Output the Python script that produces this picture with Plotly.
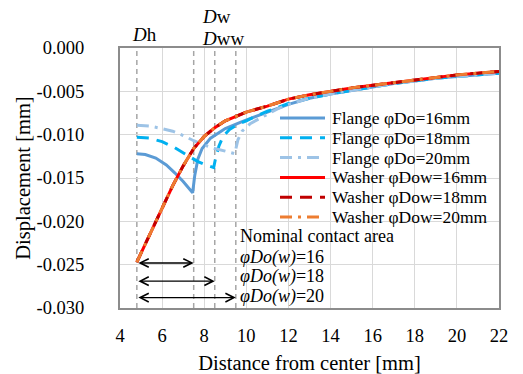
import plotly.graph_objects as go

# ---- data ---------------------------------------------------------------
washer_x = [4.8, 5.5, 6.0, 6.5, 7.0, 7.5, 8.0, 8.5, 9.0, 9.5, 10, 11, 12, 13,
            14, 15, 16, 17, 18, 19, 20, 21, 22]
washer_16 = [-0.0247, -0.0211, -0.0185, -0.0159, -0.0136, -0.0116, -0.0102,
             -0.0092, -0.0084, -0.0079, -0.0074, -0.0067, -0.0059, -0.0054,
             -0.0050, -0.0046, -0.0043, -0.0040, -0.0037, -0.0034, -0.0031,
             -0.0029, -0.0027]
washer_18 = [-0.0247, -0.0211, -0.0185, -0.0159, -0.0136, -0.0116, -0.0102,
             -0.0092, -0.0084, -0.0079, -0.0074, -0.0067, -0.0059, -0.0054,
             -0.0050, -0.0046, -0.0043, -0.0040, -0.0037, -0.0034, -0.0031,
             -0.0029, -0.0027]
washer_20 = [-0.0247, -0.0211, -0.0185, -0.0159, -0.0136, -0.0116, -0.0102,
             -0.0092, -0.0084, -0.0079, -0.0074, -0.0067, -0.0059, -0.0054,
             -0.0050, -0.0046, -0.0043, -0.0040, -0.0037, -0.0034, -0.0031,
             -0.0029, -0.0027]

flange16_x = [4.8, 5.2, 5.7, 6.2, 6.6, 7.0, 7.45, 7.55, 7.7, 7.9, 8.3, 9.0,
              9.8, 10.5, 11, 12, 13, 14, 15, 16, 17, 18, 19, 20, 21, 22]
flange16_y = [-0.0122, -0.0123, -0.0127, -0.0135, -0.0144, -0.0154, -0.0167,
              -0.0147, -0.0128, -0.0116, -0.0104, -0.0093, -0.0085, -0.0079,
              -0.0074, -0.0065, -0.0058, -0.0053, -0.0049, -0.0045, -0.0041,
              -0.0038, -0.0035, -0.0033, -0.0031, -0.0029]

flange18_x = [4.8, 5.4, 6.0, 6.6, 7.2, 7.7, 8.1, 8.45, 8.55, 8.7, 8.9, 9.2,
              9.6, 10.0, 10.5, 11, 12, 13, 14, 15, 16, 17, 18, 19, 20, 21, 22]
flange18_y = [-0.0103, -0.0104, -0.0108, -0.0115, -0.0124, -0.0131, -0.0135,
              -0.0138, -0.0126, -0.0113, -0.0102, -0.0094, -0.0088, -0.0084,
              -0.0078, -0.0073, -0.0064, -0.0058, -0.0053, -0.0049, -0.0045,
              -0.0041, -0.0038, -0.0035, -0.0033, -0.0031, -0.0029]

flange20_x = [4.8, 5.4, 6.0, 6.5, 7.0, 7.5, 8.0, 8.5, 9.0, 9.45, 9.6, 9.8,
              10.2, 10.8, 11.5, 12, 13, 14, 15, 16, 17, 18, 19, 20, 21, 22]
flange20_y = [-0.0089, -0.0090, -0.0093, -0.0096, -0.0101, -0.0107, -0.0112,
              -0.0116, -0.0119, -0.0122, -0.0106, -0.0096, -0.0087, -0.0079,
              -0.0070, -0.0065, -0.0058, -0.0053, -0.0049, -0.0045, -0.0041,
              -0.0038, -0.0035, -0.0033, -0.0031, -0.0029]

series_names = ["Flange φDo=16mm", "Flange φDo=18mm", "Flange φDo=20mm",
                "Washer φDow=16mm", "Washer φDow=18mm", "Washer φDow=20mm"]

# reference diameters (vertical guide lines) and their labels
guide_x = [4.8, 7.5, 8.5, 9.5]
contact_end_x = [7.5, 8.5, 9.5]
contact_arrow_y = [-0.0248, -0.0269, -0.0288]
contact_labels = ["<i>φDo(w)</i>=16", "<i>φDo(w)</i>=18", "<i>φDo(w)</i>=20"]

x_ticks = [4, 6, 8, 10, 12, 14, 16, 18, 20, 22]
y_ticks = [0.0, -0.005, -0.010, -0.015, -0.020, -0.025, -0.030]

# ---- styling ------------------------------------------------------------
FONT = "Liberation Serif, Times New Roman, serif"
W, H = 523, 374
ML, MR, MT, MB = 120, 24, 48, 66

DASH = "12px,8px"
DASHDOT = "12px,6px,3px,6px"
styles = [
    ("#5B9BD5", "solid"),
    ("#00B0F0", DASH),
    ("#9DC3E6", DASHDOT),
    ("#FF0000", "solid"),
    ("#C00000", DASH),
    ("#ED7D31", DASHDOT),
]

xs = [flange16_x, flange18_x, flange20_x, washer_x, washer_x, washer_x]
ys = [flange16_y, flange18_y, flange20_y, washer_16, washer_18, washer_20]

fig = go.Figure()
for name, x, y, (color, dash) in zip(series_names, xs, ys, styles):
    fig.add_trace(go.Scatter(
        x=x, y=y, mode="lines", name=name, showlegend=False,
        line=dict(color=color, width=3, dash=dash),
    ))


def px_to_paper_x(px):
    return (px - ML) / (W - ML - MR)


def px_to_paper_y(py):
    return 1 - (py - MT) / (H - MT - MB)


shapes = []
annotations = []

# vertical dashed guide lines
for gx in guide_x:
    shapes.append(dict(type="line", xref="x", yref="paper", x0=gx, x1=gx,
                       y0=0, y1=1, layer="between",
                       line=dict(color="#A6A6A6", width=1.5, dash="5px,4px")))

# legend drawn as line samples + text
row0, row_gap = 118, 19.8
for i, (name, (color, dash)) in enumerate(zip(series_names, styles)):
    yy = px_to_paper_y(row0 + i * row_gap)
    shapes.append(dict(type="line", xref="paper", yref="paper",
                       x0=px_to_paper_x(280), x1=px_to_paper_x(325),
                       y0=yy, y1=yy,
                       line=dict(color=color, width=3, dash=dash)))
    annotations.append(dict(text=name, xref="paper", yref="paper",
                            x=px_to_paper_x(330), y=yy, xanchor="left",
                            yanchor="middle", showarrow=False,
                            font=dict(family=FONT, size=17.5, color="black")))

# nominal contact area arrows
for xe, ya in zip(contact_end_x, contact_arrow_y):
    annotations.append(dict(x=xe, y=ya, ax=guide_x[0], ay=ya,
                            xref="x", yref="y", axref="x", ayref="y",
                            text="", showarrow=True, arrowside="end+start",
                            arrowhead=5, startarrowhead=5, arrowsize=1.2,
                            startarrowsize=1.2, arrowwidth=1.4,
                            arrowcolor="black"))

annotations.append(dict(text="Nominal contact area", xref="paper", yref="paper",
                        x=px_to_paper_x(238), y=px_to_paper_y(236),
                        xanchor="left", yanchor="middle", showarrow=False,
                        font=dict(family=FONT, size=18, color="black")))
for i, lab in enumerate(contact_labels):
    annotations.append(dict(text=lab, xref="paper", yref="paper",
                            x=px_to_paper_x(238),
                            y=px_to_paper_y(257 + i * 19.5),
                            xanchor="left", yanchor="middle", showarrow=False,
                            font=dict(family=FONT, size=18, color="black")))

# diameter labels above the plot
for txt, px, py in [("<i>D</i>h", 130, 35), ("<i>D</i>w", 200, 17),
                    ("<i>D</i>ww", 200, 39)]:
    annotations.append(dict(text=txt, xref="paper", yref="paper",
                            x=px_to_paper_x(px), y=px_to_paper_y(py),
                            xanchor="left", yanchor="middle", showarrow=False,
                            font=dict(family=FONT, size=19, color="black")))

fig.update_layout(
    template="none",
    width=W, height=H,
    margin=dict(l=ML, r=MR, t=MT, b=MB, pad=0),
    paper_bgcolor="white", plot_bgcolor="white",
    font=dict(family=FONT, size=18, color="black"),
    shapes=shapes, annotations=annotations,
    showlegend=False,
)
fig.update_xaxes(
    range=[4, 22], tickvals=x_ticks, ticktext=[str(v) for v in x_ticks],
    showgrid=True, gridcolor="#D9D9D9", gridwidth=1.3, zeroline=False,
    showline=True, mirror=True, linecolor="#8C8C8C", linewidth=2,
    ticks="outside", ticklen=10, tickcolor="rgba(0,0,0,0)",
    tickfont=dict(family=FONT, size=18.5, color="black"),
    title=dict(text="Distance from center [mm]", standoff=10,
               font=dict(family=FONT, size=20.5, color="black")),
)
fig.update_yaxes(
    range=[-0.030, 0.0], tickvals=y_ticks,
    ticktext=[f"{v:.3f}" if v != 0 else "0.000" for v in y_ticks],
    showgrid=True, gridcolor="#D9D9D9", gridwidth=1.3, zeroline=False,
    showline=True, mirror=True, linecolor="#8C8C8C", linewidth=2,
    ticks="outside", ticklen=30, tickcolor="rgba(0,0,0,0)",
    tickfont=dict(family=FONT, size=18.5, color="black"),
    title=dict(text="Displacement [mm]", standoff=0,
               font=dict(family=FONT, size=20.5, color="black")),
)

fig.write_html("out.html")
